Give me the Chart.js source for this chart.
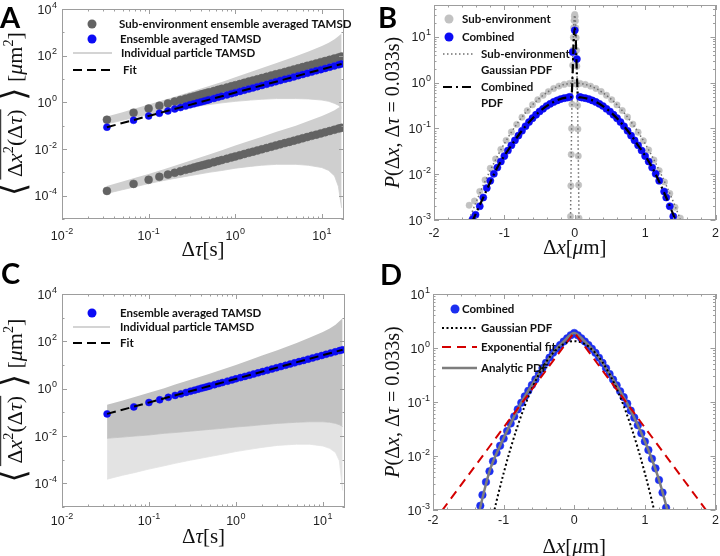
<!DOCTYPE html>
<html>
<head>
<meta charset="utf-8">
<script src="https://cdn.jsdelivr.net/npm/chart.js@4.4.1/dist/chart.umd.min.js"></script>
<style>
  html, body { margin: 0; padding: 0; background: #fff; }
  #fig { position: relative; width: 720px; height: 556px; overflow: hidden; }
  .panel { position: absolute; width: 360px; height: 278px; }
  .tag { position: absolute; font: bold 29px Lato, "Open Sans", sans-serif; line-height: 29px; color: #000; }
</style>
</head>
<body>
<div id="fig">
  <div class="panel" style="left:0;top:0"><canvas id="chartA" width="360" height="278"></canvas></div>
  <div class="panel" style="left:360px;top:0"><canvas id="chartB" width="360" height="278"></canvas></div>
  <div class="panel" style="left:0;top:278px"><canvas id="chartC" width="360" height="278"></canvas></div>
  <div class="panel" style="left:360px;top:278px"><canvas id="chartD" width="360" height="278"></canvas></div>
  <div class="tag" style="left:0;top:2px">A</div>
  <div class="tag" style="left:378px;top:2px">B</div>
  <div class="tag" style="left:1px;top:258px">C</div>
  <div class="tag" style="left:380px;top:259px">D</div>
</div>
<script>
// ---- panels A and C: TAMSD vs lag time ----
const lagTimes = [0.033, 0.067, 0.1, 0.133, 0.167, 0.2, 0.233, 0.267, 0.3, 0.333, 0.367, 0.4, 0.433, 0.467, 0.5,
  0.567, 0.633, 0.7, 0.8, 0.9, 1.0, 1.13, 1.27, 1.43, 1.6, 1.8, 2.03, 2.3, 2.6, 2.93, 3.3, 3.73, 4.2, 4.73,
  5.33, 6.0, 6.77, 7.63, 8.6, 9.7, 10.9, 12.3, 13.9, 15.6, 16.9];
const fastSubEnvMsd = [0.18, 0.36, 0.54, 0.72, 0.9, 1.08, 1.26, 1.44, 1.62, 1.8, 1.98, 2.16, 2.34, 2.52, 2.7,
  3.06, 3.42, 3.78, 4.32, 4.86, 5.4, 6.1, 6.86, 7.72, 8.64, 9.72, 11.0, 12.4, 14.0, 15.8, 17.8, 20.1, 22.7, 25.5,
  28.8, 32.4, 36.6, 41.2, 46.4, 52.4, 58.9, 66.4, 75.1, 84.2, 91.3];
const slowSubEnvMsd = [1.6e-4, 3.2e-4, 4.8e-4, 6.4e-4, 8.0e-4, 9.6e-4, 1.12e-3, 1.28e-3, 1.44e-3, 1.6e-3, 1.76e-3,
  1.92e-3, 2.08e-3, 2.24e-3, 2.4e-3, 2.72e-3, 3.04e-3, 3.36e-3, 3.84e-3, 4.32e-3, 4.8e-3, 5.42e-3, 6.1e-3, 6.86e-3,
  7.68e-3, 8.64e-3, 9.74e-3, 0.011, 0.0125, 0.0141, 0.0158, 0.0179, 0.0202, 0.0227, 0.0256, 0.0288, 0.0325, 0.0366,
  0.0413, 0.0466, 0.0523, 0.059, 0.0667, 0.0749, 0.081];
const ensembleMsd = [0.086, 0.17, 0.26, 0.34, 0.43, 0.52, 0.6, 0.69, 0.78, 0.86, 0.95, 1.04, 1.12, 1.21, 1.3,
  1.47, 1.64, 1.82, 2.08, 2.34, 2.6, 2.94, 3.3, 3.72, 4.16, 4.68, 5.28, 5.98, 6.76, 7.62, 8.58, 9.7, 10.9, 12.3,
  13.9, 15.6, 17.6, 19.8, 22.4, 25.2, 28.3, 32.0, 36.1, 40.6, 44.0];
const fitTimes = [0.033, 16.9];
const fitMsd = [0.086, 44.0];

// envelopes of the individual particle TAMSD curves
const bandTimes = [0.033, 0.05, 0.07, 0.1, 0.15, 0.2, 0.3, 0.5, 0.7, 1, 1.5, 2, 3, 5, 7, 10, 12, 14, 15.5, 16.9];
const fastBandTop = [0.25, 0.38, 0.55, 0.8, 1.25, 1.75, 2.8, 5, 7.5, 12, 20, 29, 48, 95, 150, 260, 360, 500, 680, 900];
const fastBandBottom = [0.12, 0.17, 0.23, 0.31, 0.42, 0.5, 0.62, 0.8, 0.95, 1.1, 1.25, 1.35, 1.45, 1.45, 1.4, 1.25, 1.1, 0.9, 0.75, 0.55];
const slowBandTop = [2.6e-4, 4e-4, 5.8e-4, 8.5e-4, 1.35e-3, 1.9e-3, 3.1e-3, 5.8e-3, 8.8e-3, 0.014, 0.023, 0.033, 0.055, 0.1, 0.16, 0.26, 0.35, 0.46, 0.58, 0.7];
const slowBandBottom = [1.25e-4, 1.8e-4, 2.4e-4, 3.3e-4, 4.5e-4, 5.5e-4, 7.2e-4, 1e-3, 1.2e-3, 1.5e-3, 1.8e-3, 2e-3, 2.2e-3, 2.2e-3, 2e-3, 1.6e-3, 1.2e-3, 7e-4, 2.5e-4, 3e-5];
const allBandTop = [0.21, 0.32, 0.46, 0.68, 1.05, 1.5, 2.4, 4.3, 6.5, 10, 17, 25, 42, 85, 140, 250, 350, 500, 700, 950];
const denseBandBottom = [0.008, 0.009, 0.01, 0.011, 0.013, 0.014, 0.016, 0.019, 0.021, 0.024, 0.027, 0.03, 0.034, 0.038, 0.04, 0.04, 0.038, 0.034, 0.03, 0.025];
const allBandBottom = [1.5e-4, 2.2e-4, 2.9e-4, 4e-4, 5.5e-4, 7e-4, 9.5e-4, 1.35e-3, 1.7e-3, 2.2e-3, 2.8e-3, 3.3e-3, 4e-3, 4.5e-3, 4.5e-3, 3.8e-3, 3e-3, 2e-3, 9e-4, 5e-5];

// ---- panel B: displacement PDFs ----
const subEnvWideX = [-1.5, -1.425, -1.35, -1.275, -1.2, -1.125, -1.05, -0.975, -0.9, -0.825, -0.75, -0.675, -0.6, -0.525,
  -0.45, -0.375, -0.3, -0.225, -0.15, -0.075, 0, 0.075, 0.15, 0.225, 0.3, 0.375, 0.45, 0.525, 0.6, 0.675, 0.75, 0.825,
  0.9, 0.975, 1.05, 1.125, 1.2, 1.275, 1.35, 1.425, 1.5];
const subEnvWideP = [0.0021, 0.0026, 0.0042, 0.0075, 0.0135, 0.0215, 0.035, 0.055, 0.084, 0.123, 0.176, 0.245, 0.33,
  0.426, 0.53, 0.64, 0.748, 0.845, 0.92, 0.965, 0.985, 0.968, 0.918, 0.842, 0.75, 0.643, 0.532, 0.424, 0.328, 0.247,
  0.178, 0.124, 0.083, 0.054, 0.034, 0.0205, 0.012, 0.0068, 0.0038, 0.0019, 0.0011];
const subEnvNarrowX = [-0.06, -0.055, -0.05, -0.045, -0.04, -0.035, -0.03, -0.025, -0.02, -0.015, -0.01, -0.005, 0,
  0.005, 0.01, 0.015, 0.02, 0.025, 0.03, 0.035, 0.04, 0.045, 0.05, 0.055, 0.06];
const subEnvNarrowP = [0.0012, 0.0056, 0.027, 0.1, 0.34, 0.95, 2.4, 5.2, 9.8, 16, 23, 28.5, 31, 28, 22.5, 15.8, 9.6,
  5.1, 2.3, 0.92, 0.32, 0.097, 0.025, 0.0058, 0.0011];
const gaussWideX = [-1.6, -1.5, -1.4, -1.3, -1.2, -1.1, -1.0, -0.9, -0.8, -0.7, -0.6, -0.5, -0.4, -0.3, -0.2, -0.1, 0,
  0.1, 0.2, 0.3, 0.4, 0.5, 0.6, 0.7, 0.8, 0.9, 1.0, 1.1, 1.2, 1.3, 1.4, 1.5, 1.6];
const gaussWideP = [0.0004, 0.00103, 0.0025, 0.0057, 0.0122, 0.0246, 0.0467, 0.0833, 0.14, 0.221, 0.329, 0.46, 0.605,
  0.749, 0.872, 0.955, 0.985, 0.955, 0.872, 0.749, 0.605, 0.46, 0.329, 0.221, 0.14, 0.0833, 0.0467, 0.0246, 0.0122,
  0.0057, 0.0025, 0.00103, 0.0004];
const gaussNarrowX = [-0.075, -0.06, -0.045, -0.03, -0.015, 0, 0.015, 0.03, 0.045, 0.06, 0.075];
const gaussNarrowP = [4e-6, 0.0011, 0.098, 2.36, 15.9, 30, 15.9, 2.36, 0.098, 0.0011, 4e-6];
const combinedBX = [-1.45, -1.41, -1.35, -1.3, -1.25, -1.2, -1.15, -1.1, -1.05, -1.0, -0.95, -0.9, -0.85, -0.8, -0.75,
  -0.7, -0.65, -0.6, -0.55, -0.5, -0.45, -0.4, -0.35, -0.3, -0.25, -0.2, -0.15, -0.1, -0.07, -0.03, 0, 0.03, 0.07,
  0.1, 0.15, 0.2, 0.25, 0.3, 0.35, 0.4, 0.45, 0.5, 0.55, 0.6, 0.65, 0.7, 0.75, 0.8, 0.85, 0.9, 0.95, 1.0, 1.05, 1.1,
  1.15, 1.2, 1.27, 1.3, 1.35, 1.4];
const combinedBP = [0.00105, 0.0013, 0.002, 0.0031, 0.005, 0.0072, 0.0102, 0.014, 0.019, 0.025, 0.033, 0.043, 0.055,
  0.07, 0.089, 0.112, 0.138, 0.168, 0.2, 0.235, 0.27, 0.31, 0.345, 0.38, 0.41, 0.44, 0.46, 0.475, 0.49, 4.7, 14, 3.3,
  0.49, 0.475, 0.46, 0.44, 0.41, 0.38, 0.345, 0.31, 0.27, 0.235, 0.2, 0.168, 0.138, 0.112, 0.089, 0.07, 0.055, 0.043,
  0.033, 0.025, 0.019, 0.014, 0.0102, 0.0072, 0.0042, 0.0031, 0.002, 0.0012];
const combinedPdfX = [-1.46, -1.3, -1.1, -0.9, -0.7, -0.5, -0.3, -0.1, -0.06, -0.045, -0.03, -0.015, 0, 0.015, 0.03,
  0.045, 0.06, 0.1, 0.3, 0.5, 0.7, 0.9, 1.1, 1.3, 1.42];
const combinedPdfP = [0.0009, 0.0031, 0.014, 0.043, 0.112, 0.235, 0.38, 0.475, 0.48, 0.52, 1.6, 8.4, 15.5, 8.4, 1.6,
  0.52, 0.48, 0.475, 0.38, 0.235, 0.112, 0.043, 0.014, 0.0031, 0.0011];

// ---- panel D: combined PDF with fits ----
const combinedDX = [-1.33, -1.3, -1.25, -1.2, -1.15, -1.1, -1.05, -1.0, -0.95, -0.9, -0.85, -0.8, -0.75, -0.7, -0.65,
  -0.6, -0.55, -0.5, -0.45, -0.4, -0.35, -0.3, -0.25, -0.2, -0.15, -0.1, -0.05, 0, 0.05, 0.1, 0.15, 0.2, 0.25, 0.3,
  0.35, 0.4, 0.45, 0.5, 0.55, 0.6, 0.65, 0.7, 0.75, 0.8, 0.85, 0.9, 0.95, 1.0, 1.05, 1.1, 1.15, 1.2, 1.25, 1.3];
const combinedDP = [0.0012, 0.0019, 0.0033, 0.0052, 0.008, 0.0115, 0.0155, 0.021, 0.029, 0.04, 0.054, 0.073, 0.097,
  0.127, 0.162, 0.206, 0.262, 0.333, 0.424, 0.533, 0.664, 0.815, 0.968, 1.137, 1.32, 1.51, 1.72, 1.9, 1.72, 1.51,
  1.32, 1.135, 0.966, 0.813, 0.661, 0.531, 0.422, 0.331, 0.26, 0.204, 0.158, 0.123, 0.0933, 0.0692, 0.0513, 0.0372,
  0.0263, 0.0186, 0.0129, 0.0089, 0.0059, 0.0036, 0.0021, 0.0011];
const analyticX = [-1.35, -1.2, -1.05, -0.9, -0.75, -0.6, -0.45, -0.3, -0.15, 0, 0.15, 0.3, 0.45, 0.6, 0.75, 0.9, 1.05, 1.2, 1.35];
const analyticP = [0.0009, 0.0052, 0.0155, 0.04, 0.097, 0.206, 0.424, 0.815, 1.32, 1.9, 1.32, 0.813, 0.422, 0.204, 0.0933, 0.0372, 0.0129, 0.0036, 0.0007];
const gaussDX = [-1.2, -1.1, -1.0, -0.9, -0.8, -0.7, -0.6, -0.5, -0.4, -0.3, -0.2, -0.1, 0, 0.1, 0.2, 0.3, 0.4, 0.5, 0.6, 0.7, 0.8, 0.9, 1.0, 1.1, 1.2];
const gaussDP = [0.0004, 0.00147, 0.0048, 0.014, 0.0365, 0.085, 0.177, 0.328, 0.544, 0.807, 1.07, 1.27, 1.34, 1.27, 1.07, 0.807, 0.544, 0.328, 0.177, 0.085, 0.0365, 0.014, 0.0048, 0.00147, 0.0004];
const expFitX = [-2, 0, 2];
const expFitP = [0.00058, 1.95, 0.00058];

// ---- tick labels ----
const lagTickExps = [-2, -1, 0, 1];
const msdTickExps = [-4, -2, 0, 2, 4];
const dxTicks = [-2, -1, 0, 1, 2];
const pdfTickExps = [-3, -2, -1, 0, 1];

const BLUE = '#0b0bf5';
const TICK_FONT = '12.5px "Liberation Sans", Arial, sans-serif';
const SUP_FONT = '9px "Liberation Sans", Arial, sans-serif';
const LEGEND_FONT = 'bold 11.5px Lato, "Open Sans", sans-serif';
const SERIF = '"Liberation Serif", "DejaVu Serif", serif';

// axis titles in math style: i = italic, up = superscript, k = size factor, ol = overline
const msdTitle = [
  { t: '⟨', k: 1.55, dy: 0.12 }, { t: ' Δ', ol: 1 }, { t: 'x', i: 1, ol: 1 }, { t: '2', up: 1, k: 0.65, ol: 1 },
  { t: '(Δ', ol: 1 }, { t: 'τ', i: 1, ol: 1 }, { t: ')', ol: 1 }, { t: ' ⟩', k: 1.55, dy: 0.12 },
  { t: ' [' }, { t: 'μ', i: 1 }, { t: 'm' }, { t: '2', up: 1, k: 0.65 }, { t: ']' }
];
const lagTitle = [{ t: 'Δ' }, { t: 'τ', i: 1 }, { t: '[s]' }];
const pdfTitle = [{ t: 'P', i: 1 }, { t: '(Δ' }, { t: 'x', i: 1 }, { t: ', Δ' }, { t: 'τ', i: 1 }, { t: ' = 0.033s)' }];
const dxTitle = [{ t: 'Δ' }, { t: 'x', i: 1 }, { t: '[' }, { t: 'μ', i: 1 }, { t: 'm]' }];

const pts = (xs, ys) => xs.map((x, i) => ({ x, y: ys[i] }));
const powers = exps => exps.map(e => Math.pow(10, e));

function logMinor(min, max) {
  const out = [];
  for (let d = Math.floor(Math.log10(min)); d <= Math.ceil(Math.log10(max)); d++) {
    for (let m = 2; m <= 9; m++) {
      const v = m * Math.pow(10, d);
      if (v > min && v < max) out.push(v);
    }
  }
  return out;
}

function drawPow(ctx, exp, x, y, align) {
  ctx.font = TICK_FONT;
  const w1 = ctx.measureText('10').width;
  ctx.font = SUP_FONT;
  const s = String(exp);
  const w2 = ctx.measureText(s).width;
  const w = w1 + w2 + 0.5;
  const left = align === 'center' ? x - w / 2 : x - w;
  ctx.textAlign = 'left';
  ctx.textBaseline = 'alphabetic';
  ctx.font = TICK_FONT;
  ctx.fillText('10', left, y);
  ctx.font = SUP_FONT;
  ctx.fillText(s, left + w1 + 0.5, y - 6);
}

function drawRich(ctx, segs, cx, cy, rotate, size) {
  ctx.save();
  ctx.translate(cx, cy);
  if (rotate) ctx.rotate(-Math.PI / 2);
  ctx.textAlign = 'left';
  ctx.textBaseline = 'alphabetic';
  ctx.fillStyle = '#111';
  const fontOf = s => (s.i ? 'italic ' : '') + ((s.k || 1) * size).toFixed(1) + 'px ' + SERIF;
  const widths = segs.map(s => { ctx.font = fontOf(s); return ctx.measureText(s.t).width; });
  const total = widths.reduce((a, b) => a + b, 0);
  const base = size * 0.33;
  let x = -total / 2, olStart = null, olEnd = null;
  segs.forEach((s, i) => {
    ctx.font = fontOf(s);
    ctx.fillText(s.t, x, base + (s.up ? -size * 0.42 : 0) + (s.dy || 0) * size);
    if (s.ol) { if (olStart === null) olStart = x; olEnd = x + widths[i]; }
    x += widths[i];
  });
  if (olStart !== null) {
    ctx.strokeStyle = '#111';
    ctx.lineWidth = 1;
    ctx.beginPath();
    ctx.moveTo(olStart + 3, base - size * 0.98);
    ctx.lineTo(olEnd, base - size * 0.98);
    ctx.stroke();
  }
  ctx.restore();
}

// matlab style box, inward ticks, tick labels and axis titles
const axesBox = {
  id: 'axesBox',
  afterDatasetsDraw(chart, _args, o) {
    const { ctx, chartArea: a } = chart;
    const xs = chart.scales.x, ys = chart.scales.y;
    ctx.save();
    ctx.strokeStyle = '#9d9d9d';
    ctx.lineWidth = 1;
    const seg = (x1, y1, x2, y2) => { ctx.beginPath(); ctx.moveTo(x1, y1); ctx.lineTo(x2, y2); ctx.stroke(); };
    const xt = (v, len) => {
      const p = Math.round(xs.getPixelForValue(v)) + 0.5;
      seg(p, a.bottom, p, a.bottom - len); seg(p, a.top, p, a.top + len);
    };
    const yt = (v, len) => {
      const p = Math.round(ys.getPixelForValue(v)) + 0.5;
      seg(a.left, p, a.left + len, p); seg(a.right, p, a.right - len, p);
    };
    o.xMinor.forEach(v => xt(v, 2.5));
    o.xMajor.forEach(v => xt(v, 5));
    o.yMinor.forEach(v => yt(v, 2.5));
    o.yMajor.forEach(v => yt(v, 5));
    ctx.strokeRect(Math.round(a.left) + 0.5, Math.round(a.top) + 0.5, Math.round(a.width) - 1, Math.round(a.height) - 1);

    ctx.fillStyle = '#1e1e1e';
    if (o.xLog) {
      o.xLabels.forEach(e => drawPow(ctx, e, xs.getPixelForValue(Math.pow(10, e)), a.bottom + o.xGap, 'center'));
    } else {
      ctx.font = TICK_FONT; ctx.textAlign = 'center'; ctx.textBaseline = 'alphabetic';
      o.xLabels.forEach(v => ctx.fillText(String(v), xs.getPixelForValue(v), a.bottom + o.xGap));
    }
    o.yLabels.forEach(e => drawPow(ctx, e, a.left - o.yGap, ys.getPixelForValue(Math.pow(10, e)) + 4.5, 'right'));

    drawRich(ctx, o.xTitle, (a.left + a.right) / 2, o.xTitleY, false, o.xTitleSize);
    drawRich(ctx, o.yTitle, o.yTitleX, (a.top + a.bottom) / 2, true, o.yTitleSize);
    ctx.restore();
  }
};

// legend drawn inside the axes, no frame
const insetLegend = {
  id: 'insetLegend',
  afterDraw(chart, _args, o) {
    const ctx = chart.ctx;
    ctx.save();
    o.items.forEach(it => {
      if (it.dot) {
        ctx.beginPath();
        ctx.arc(it.dot, it.y, it.r, 0, Math.PI * 2);
        ctx.fillStyle = it.color;
        ctx.fill();
      } else {
        ctx.beginPath();
        ctx.setLineDash(it.dash || []);
        ctx.strokeStyle = it.color;
        ctx.lineWidth = it.width;
        ctx.moveTo(it.line[0], it.y);
        ctx.lineTo(it.line[1], it.y);
        ctx.stroke();
        ctx.setLineDash([]);
      }
      ctx.font = LEGEND_FONT;
      ctx.fillStyle = '#111';
      ctx.textAlign = 'left';
      ctx.textBaseline = 'middle';
      it.text.forEach((t, i) => ctx.fillText(t, it.tx, it.y + i * 16));
    });
    ctx.restore();
  }
};

function makeChart(id, p) {
  return new Chart(document.getElementById(id), {
    type: 'scatter',
    data: { datasets: p.datasets },
    plugins: [axesBox, insetLegend],
    options: {
      responsive: false,
      animation: false,
      events: [],
      layout: { padding: p.padding },
      plugins: {
        legend: { display: false },
        tooltip: { enabled: false },
        axesBox: p.axes,
        insetLegend: { items: p.legend }
      },
      scales: {
        x: {
          type: p.xType, min: p.xMin, max: p.xMax,
          grid: { display: false }, border: { display: false }, ticks: { display: false },
          afterFit: s => { s.height = p.xHeight; }
        },
        y: {
          type: 'logarithmic', min: p.yMin, max: p.yMax,
          grid: { display: false }, border: { display: false }, ticks: { display: false },
          afterFit: s => { s.width = p.yWidth; }
        }
      }
    }
  });
}

const line = (data, color, width, dash, order, extra) => Object.assign({
  data, showLine: true, pointRadius: 0, borderColor: color, borderWidth: width, borderDash: dash, order
}, extra || {});
const dots = (data, color, r, order) => ({
  data, showLine: false, pointRadius: r, pointBackgroundColor: color, pointBorderColor: color, pointBorderWidth: 0.5, order
});
const bandEdge = (data, order) => line(data, 'rgba(0,0,0,0)', 0, [], order, { fill: false });
const bandFill = (data, color, order) => line(data, color, 0.8, [], order, { fill: '-1', backgroundColor: color });

const msdAxes = {
  xMajor: powers(lagTickExps), xMinor: logMinor(0.01, 18), xLog: true, xLabels: lagTickExps,
  yMajor: powers(msdTickExps), yMinor: [1e-5, 1e-3, 1e-1, 1e1, 1e3], yLabels: msdTickExps,
  xTitle: lagTitle, xTitleSize: 21, yTitle: msdTitle, yTitleSize: 22, yTitleX: 15
};
const pdfAxes = {
  xMajor: dxTicks, xMinor: [-1.8, -1.6, -1.4, -1.2, -0.8, -0.6, -0.4, -0.2, 0.2, 0.4, 0.6, 0.8, 1.2, 1.4, 1.6, 1.8],
  xLog: false, xLabels: dxTicks, yMajor: powers(pdfTickExps), yLabels: pdfTickExps,
  xTitle: dxTitle, xTitleSize: 21, yTitle: pdfTitle, yTitleSize: 20, yTitleX: 32
};

makeChart('chartA', {
  padding: { top: 9, right: 16, left: 0, bottom: 0 }, yWidth: 62, xHeight: 59,
  xType: 'logarithmic', xMin: 0.01, xMax: 18, yMin: 1e-5, yMax: 1e4,
  axes: Object.assign({ xGap: 21, yGap: 5, xTitleY: 249 }, msdAxes),
  datasets: [
    bandEdge(pts(bandTimes, fastBandTop), 20),
    bandFill(pts(bandTimes, fastBandBottom), '#cfcfcf', 20),
    bandEdge(pts(bandTimes, slowBandTop), 20),
    bandFill(pts(bandTimes, slowBandBottom), '#cfcfcf', 20),
    dots(pts(lagTimes, fastSubEnvMsd), '#636363', 4, 5),
    dots(pts(lagTimes, slowSubEnvMsd), '#636363', 4, 5),
    dots(pts(lagTimes, ensembleMsd), BLUE, 3.5, 3),
    line(pts(fitTimes, fitMsd), '#000', 2, [9, 5], 1)
  ],
  legend: [
    { dot: 92, r: 4.5, y: 24, color: '#636363', tx: 119, text: ['Sub-environment ensemble averaged TAMSD'] },
    { dot: 92, r: 4.5, y: 39, color: BLUE, tx: 120, text: ['Ensemble averaged TAMSD'] },
    { line: [73, 112], y: 53, color: '#c6c6c6', width: 1.5, tx: 121, text: ['Individual particle TAMSD'] },
    { line: [73, 112], y: 70, color: '#000', width: 2, dash: [9, 5], tx: 123, text: ['Fit'] }
  ]
});

makeChart('chartB', {
  padding: { top: 5, right: 3, left: 0, bottom: 0 }, yWidth: 74, xHeight: 58,
  xType: 'linear', xMin: -2, xMax: 2, yMin: 1e-3, yMax: 50,
  axes: Object.assign({ xGap: 17, yGap: 3, yMinor: logMinor(1e-3, 50), xTitleY: 247 }, pdfAxes),
  datasets: [
    dots(pts(subEnvWideX, subEnvWideP), '#c2c2c2', 3.2, 8),
    dots(pts(subEnvNarrowX, subEnvNarrowP), '#c2c2c2', 3.2, 8),
    line(pts(gaussWideX, gaussWideP), '#6f6f6f', 1.5, [1.5, 2.5], 6, { cubicInterpolationMode: 'monotone' }),
    line(pts(gaussNarrowX, gaussNarrowP), '#6f6f6f', 1.5, [1.5, 2.5], 6, { cubicInterpolationMode: 'monotone' }),
    dots(pts(combinedBX, combinedBP), BLUE, 3.6, 4),
    line(pts(combinedPdfX, combinedPdfP), '#000', 2.2, [9, 4, 2, 4], 1, { cubicInterpolationMode: 'monotone' })
  ],
  legend: [
    { dot: 89, r: 4.5, y: 19, color: '#c2c2c2', tx: 102, text: ['Sub-environment'] },
    { dot: 89, r: 4.5, y: 37, color: BLUE, tx: 102, text: ['Combined'] },
    { line: [83, 115], y: 54, color: '#6f6f6f', width: 1.5, dash: [1.5, 2.5], tx: 121, text: ['Sub-environment', 'Gaussian PDF'] },
    { line: [83, 115], y: 87, color: '#000', width: 2.2, dash: [9, 4, 2, 4], tx: 121, text: ['Combined', 'PDF'] }
  ]
});

makeChart('chartC', {
  padding: { top: 16, right: 15, left: 0, bottom: 0 }, yWidth: 62, xHeight: 49,
  xType: 'logarithmic', xMin: 0.01, xMax: 18, yMin: 1e-5, yMax: 1e4,
  axes: Object.assign({ xGap: 18, yGap: 5, xTitleY: 258 }, msdAxes),
  datasets: [
    bandEdge(pts(bandTimes, allBandTop), 20),
    bandFill(pts(bandTimes, denseBandBottom), '#c2c2c2', 20),
    bandEdge(pts(bandTimes, denseBandBottom), 21),
    bandFill(pts(bandTimes, allBandBottom), '#e3e3e3', 21),
    dots(pts(lagTimes, ensembleMsd), BLUE, 3.5, 3),
    line(pts(fitTimes, fitMsd), '#000', 2, [9, 5], 1)
  ],
  legend: [
    { dot: 92, r: 4.5, y: 35, color: BLUE, tx: 120, text: ['Ensemble averaged TAMSD'] },
    { line: [73, 110], y: 49, color: '#c6c6c6', width: 1.5, tx: 120, text: ['Individual particle TAMSD'] },
    { line: [73, 110], y: 65, color: '#000', width: 2, dash: [9, 5], tx: 120, text: ['Fit'] }
  ]
});

makeChart('chartD', {
  padding: { top: 16, right: 3, left: 0, bottom: 0 }, yWidth: 73, xHeight: 46,
  xType: 'linear', xMin: -2, xMax: 2, yMin: 1e-3, yMax: 10,
  axes: Object.assign({ xGap: 14, yGap: 3, yMinor: logMinor(1e-3, 10), xTitleY: 268 }, pdfAxes),
  datasets: [
    dots(pts(combinedDX, combinedDP), '#1c2ff0', 3.8, 8),
    line(pts(analyticX, analyticP), '#7d7d7d', 2.5, [], 5, { cubicInterpolationMode: 'monotone' }),
    line(pts(gaussDX, gaussDP), '#000', 2, [2, 2.5], 3, { cubicInterpolationMode: 'monotone' }),
    line(pts(expFitX, expFitP), '#d40000', 2, [9, 6], 1)
  ],
  legend: [
    { dot: 95, r: 4.5, y: 31, color: '#1c2ff0', tx: 102, text: ['Combined'] },
    { line: [82, 117], y: 50, color: '#000', width: 2, dash: [2, 2.5], tx: 121, text: ['Gaussian PDF'] },
    { line: [82, 117], y: 69, color: '#d40000', width: 2, dash: [9, 6], tx: 121, text: ['Exponential fit'] },
    { line: [82, 117], y: 90, color: '#7d7d7d', width: 2.5, tx: 121, text: ['Analytic PDF'] }
  ]
});
</script>
</body>
</html>
